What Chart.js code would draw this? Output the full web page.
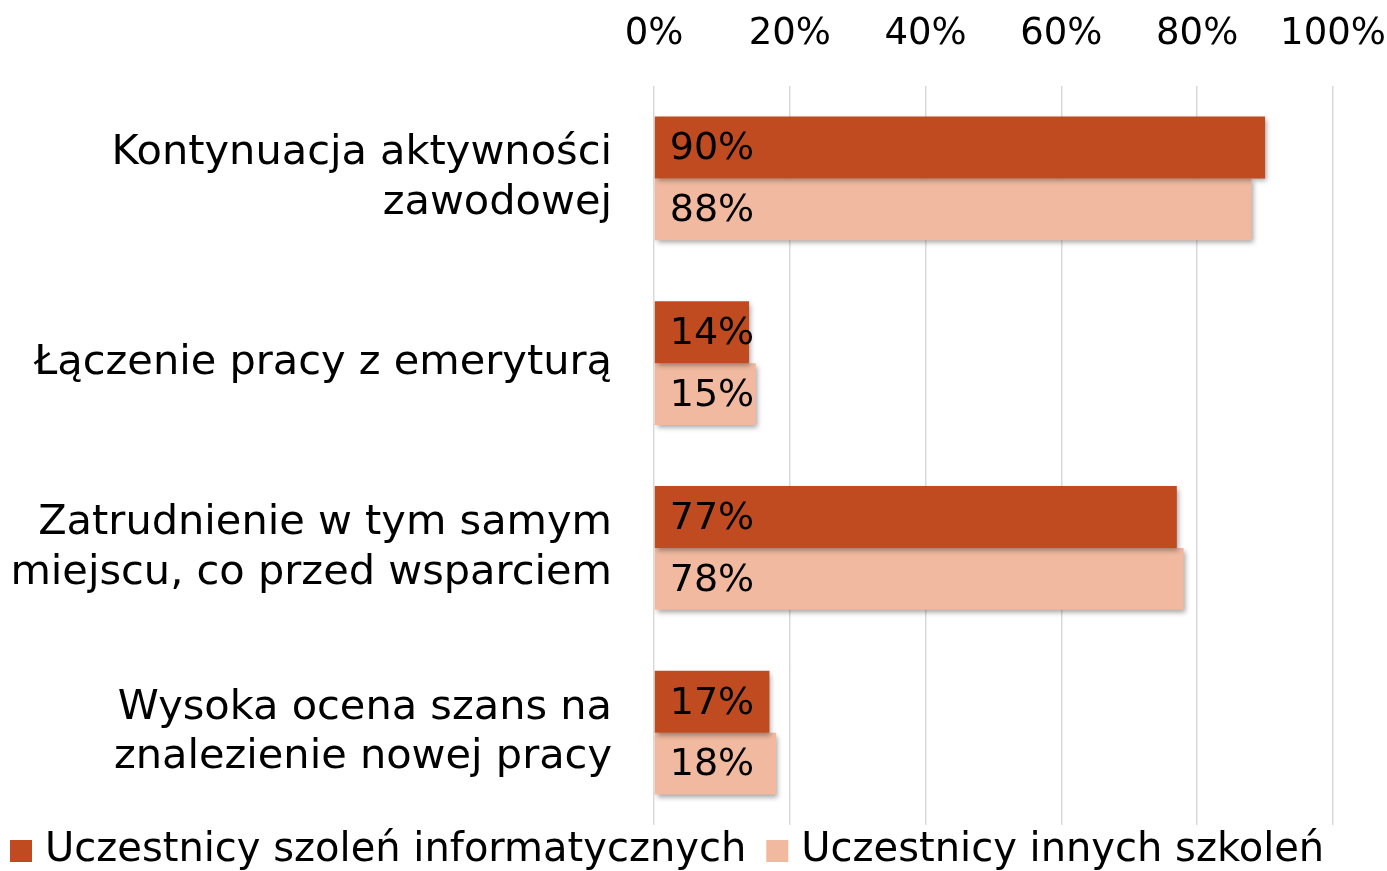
<!DOCTYPE html>
<html><head><meta charset="utf-8">
<script src="https://cdn.jsdelivr.net/npm/chart.js@4"></script>
<style>html,body{margin:0;padding:0;background:#fff}#wrap{width:1387px;height:871px;position:relative}</style>
</head><body><div id="wrap"><canvas id="c"></canvas></div>
<script>
const categories = [["Kontynuacja aktywności","zawodowej"],["Łączenie pracy z emeryturą"],["Zatrudnienie w tym samym","miejscu, co przed wsparciem"],["Wysoka ocena szans na","znalezienie nowej pracy"]];
const seriesNames = ["Uczestnicy szoleń informatycznych","Uczestnicy innych szkoleń"];
const itValues = [90,14,77,17];
const otherValues = [88,15,78,18];
const xTicks = [0,20,40,60,80,100];
const colors = ['#C04B21','#F0B9A0'];

const FONT = "'DejaVu Sans', sans-serif";
const labelPlugin = {
  id:'vals',
  beforeDatasetsDraw(chart){const c=chart.ctx;c.save();c.shadowColor='rgba(0,0,0,0.35)';c.shadowBlur=5;c.shadowOffsetX=2;c.shadowOffsetY=3;},
  afterDatasetsDraw(chart){
    const c=chart.ctx;c.restore();c.save();
    c.font="38px "+FONT;c.fillStyle='#000';c.textBaseline='middle';c.textAlign='left';
    chart.data.datasets.forEach((ds,i)=>{
      chart.getDatasetMeta(i).data.forEach((bar,j)=>{
        c.fillText(ds.data[j]+'%', bar.base+15, bar.y+2);
      });
    });
    c.restore();
  }
};
const legendPlugin = {
  id:'customLegend',
  afterDraw(chart){
    const c=chart.ctx;c.save();
    c.font="40px "+FONT;c.textBaseline='middle';c.textAlign='left';
    let x=10;const y=851;
    chart.data.datasets.forEach((ds,i)=>{
      c.fillStyle=ds.backgroundColor;c.fillRect(x,y-11,22,22);
      c.fillStyle='#000';c.fillText(ds.label,x+35,y);
      x+=35+c.measureText(ds.label).width+20;
    });
    c.restore();
  }
};
new Chart(document.getElementById('c'),{
  type:'bar',
  data:{labels:categories,datasets:[
    {label:seriesNames[0],data:itValues,backgroundColor:colors[0],categoryPercentage:0.67,barPercentage:1},
    {label:seriesNames[1],data:otherValues,backgroundColor:colors[1],categoryPercentage:0.67,barPercentage:1}
  ]},
  options:{
    indexAxis:'y',responsive:true,maintainAspectRatio:false,animation:false,
    layout:{padding:{left:0,right:54,top:0,bottom:46}},
    plugins:{tooltip:{enabled:false},legend:{display:false}},
    scales:{
      x:{position:'top',min:0,max:100,afterBuildTicks(s){s.ticks=xTicks.map(v=>({value:v}));},
        afterFit(s){s.height=86;s.paddingLeft=0;s.paddingRight=0;},
        ticks:{callback:v=>v+'%',font:{family:FONT,size:37},color:'#000',padding:29,maxRotation:0},
        grid:{color:'#d9d9d9',lineWidth:1.5,drawTicks:false},border:{display:false}},
      y:{afterFit(s){s.width=654;s.paddingTop=0;s.paddingBottom=0;},
        ticks:{font:{family:FONT,size:41.5},color:'#000',padding:42,lineHeight:1.3},
        grid:{display:false,drawTicks:false},border:{display:false}}
    }
  },
  plugins:[labelPlugin,legendPlugin]
});
</script></body></html>
